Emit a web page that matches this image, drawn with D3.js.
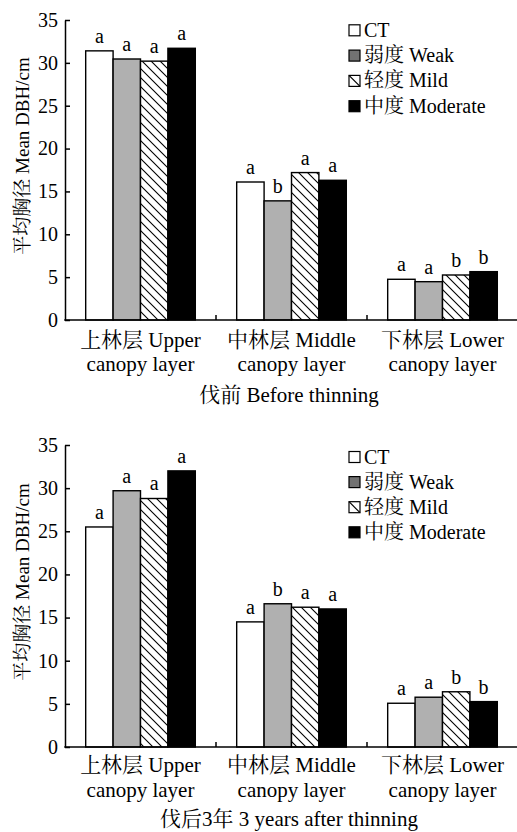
<!DOCTYPE html>
<html><head><meta charset="utf-8">
<script src="https://cdn.jsdelivr.net/npm/d3@7"></script>
<style>body{margin:0;background:#fff;}</style></head>
<body><svg id="c" width="517" height="832"></svg>
<script>
const categories = ["上林层 Upper|canopy layer", "中林层 Middle|canopy layer", "下林层 Lower|canopy layer"];
const series = ["CT", "弱度 Weak", "轻度 Mild", "中度 Moderate"];
const yTicks = [0, 5, 10, 15, 20, 25, 30, 35];
// Before thinning
const beforeValues = [
  [31.4, 30.45, 30.2, 31.7],
  [16.1, 13.9, 17.2, 16.3],
  [4.75, 4.47, 5.25, 5.64]
];
const beforeLetters = [["a","a","a","a"],["a","b","a","a"],["a","a","b","b"]];
// 3 years after thinning
const afterValues = [
  [25.5, 29.7, 28.8, 32.0],
  [14.5, 16.6, 16.2, 16.0],
  [5.07, 5.77, 6.4, 5.26]
];
const afterLetters = [["a","a","a","a"],["a","b","a","a"],["a","a","b","b"]];
const titles = ["伐前 Before thinning", "伐后3年 3 years after thinning"];
const yTitle = "平均胸径 Mean DBH/cm";

const FONT = '"Liberation Serif","Noto Serif CJK SC",serif';
const svg = d3.select("#c");
const defs = svg.append("defs");
const pat = defs.append("pattern").attr("id","hatch").attr("patternUnits","userSpaceOnUse")
  .attr("width",9).attr("height",9);
pat.append("rect").attr("width",9).attr("height",9).attr("fill","#fff");
pat.append("path").attr("d","M-1,-1 L10,10 M-5.5,3.5 L0.5,9.5 M3.5,-5.5 L9.5,0.5")
  .attr("stroke","#000").attr("stroke-width",1.1);
const fills = ["#fff", "#b0b0b0", "url(#hatch)", "#000"];
const legendFills = ["#fff", "#727272", "#fff", "#000"];

function txt(g) {
  return g.append("text").style("font-family", FONT).attr("fill", "#000");
}

function drawPanel(values, letters, title, top, bottom, legendY, legendStep, labOff) {
  const g = svg.append("g");
  const x0 = d3.scaleBand().domain(categories).range([65, 518]).padding(0);
  const x1 = d3.scaleBand().domain(series).range([0, x0.bandwidth()]).paddingInner(0).paddingOuter(0.755);
  const y = d3.scaleLinear().domain([0, 35]).range([bottom, top]);

  categories.forEach((c, ci) => {
    series.forEach((s, si) => {
      const v = values[ci][si];
      g.append("rect")
        .attr("x", x0(c) + x1(s)).attr("y", y(v))
        .attr("width", x1.bandwidth()).attr("height", y(0) - y(v))
        .attr("fill", fills[si]).attr("stroke", "#000").attr("stroke-width", 1.4);
      txt(g).attr("x", x0(c) + x1(s) + x1.bandwidth()/2).attr("y", y(v) - 8)
        .attr("text-anchor","middle").style("font-size", "20px").text(letters[ci][si]);
    });
  });

  const ya = g.append("g").attr("transform","translate(65,0)")
    .call(d3.axisLeft(y).tickValues(yTicks).tickSizeInner(-5).tickSizeOuter(0).tickPadding(7));
  ya.selectAll("path,line").attr("stroke","#000").attr("stroke-width",1.5);
  ya.selectAll("text").style("font-size","20px").style("font-family",FONT).attr("fill","#000");

  g.append("line").attr("x1",64.25).attr("x2",518).attr("y1",y(0)).attr("y2",y(0))
    .attr("stroke","#000").attr("stroke-width",1.5);
  categories.slice(1).forEach(c => {
    g.append("line").attr("x1",x0(c)).attr("x2",x0(c)).attr("y1",y(0)).attr("y2",y(0)-5)
      .attr("stroke","#000").attr("stroke-width",1.5);
  });
  categories.forEach(c => {
    const parts = c.split("|");
    const t = txt(g).attr("text-anchor","middle").style("font-size","21px");
    t.append("tspan").attr("x", x0(c)+x0.bandwidth()/2).attr("y", y(0)+labOff[0]).text(parts[0]);
    t.append("tspan").attr("x", x0(c)+x0.bandwidth()/2).attr("y", y(0)+labOff[1]).text(parts[1]);
  });
  txt(g).attr("x", 289).attr("y", y(0)+labOff[2]).attr("text-anchor","middle")
    .style("font-size","21px").text(title);

  txt(g).attr("transform",`translate(29,${(top+bottom)/2 - 14}) rotate(-90)`)
    .attr("text-anchor","middle").style("font-size","19px").text(yTitle);

  series.forEach((s, si) => {
    const ly = legendY + si*legendStep;
    g.append("rect").attr("x",349).attr("y",ly-5.5).attr("width",11).attr("height",11)
      .attr("fill",legendFills[si]).attr("stroke","#000").attr("stroke-width",1.2);
    if (si === 2) {
      g.append("line").attr("x1",349).attr("y1",ly-5.5).attr("x2",360).attr("y2",ly+5.5)
        .attr("stroke","#000").attr("stroke-width",1.2);
    }
    txt(g).attr("x",364).attr("y",ly+6.5).style("font-size","20px").text(s);
  });
}

drawPanel(beforeValues, beforeLetters, titles[0], 20, 320, 30.3, 25.3, [27, 51, 82]);
drawPanel(afterValues, afterLetters, titles[1], 445, 747, 457, 25.1, [25, 50, 79]);
</script></body></html>
